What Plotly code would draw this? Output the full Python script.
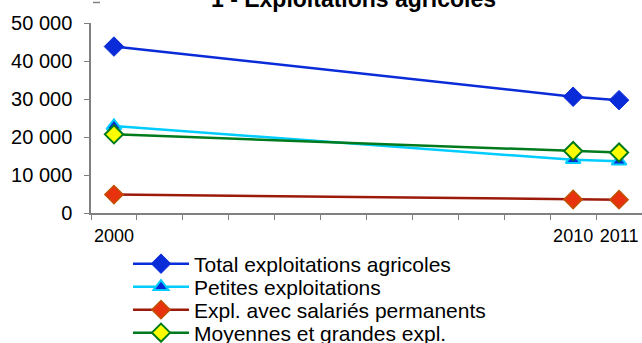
import plotly.graph_objects as go

years = [2000, 2010, 2011]
total = [43800, 30600, 29700]
petites = [22900, 14000, 13600]
salaries = [4850, 3550, 3500]
moyennes = [20700, 16300, 15900]
tick_labels = ["2000", "2010", "2011"]
series_names = ["Total exploitations agricoles", "Petites exploitations",
                "Expl. avec salariés permanents", "Moyennes et grandes expl."]
y_ticks = [0, 10000, 20000, 30000, 40000, 50000]
y_tick_labels = ["0", "10 000", "20 000", "30 000", "40 000", "50 000"]
first_year, last_year = 2000, 2011
# category boundaries (one slot per year) for the x tick marks
boundaries = [y - 0.5 for y in range(first_year, last_year + 2)]

FONT = "Liberation Sans, Arial, sans-serif"
W, H = 642, 343
fig = go.Figure()
fig.add_trace(go.Scatter(x=years, y=total, name=series_names[0], mode="lines+markers",
                         legend="legend",
                         line=dict(color="#0a2bd8", width=2.5),
                         marker=dict(symbol="diamond", size=15, color="#0a2bd8",
                                     line=dict(color="#0a2bd8", width=1))))
fig.add_trace(go.Scatter(x=years, y=petites, name=series_names[1], mode="lines+markers",
                         legend="legend2",
                         line=dict(color="#00ccff", width=2.5),
                         marker=dict(symbol="triangle-up", size=13, color="#0a2bd8",
                                     line=dict(color="#00ccff", width=2))))
fig.add_trace(go.Scatter(x=years, y=salaries, name=series_names[2], mode="lines+markers",
                         legend="legend3",
                         line=dict(color="#9c1a0a", width=2.5),
                         marker=dict(symbol="diamond", size=14, color="#e8320e",
                                     line=dict(color="#c05000", width=1.5))))
fig.add_trace(go.Scatter(x=years, y=moyennes, name=series_names[3], mode="lines+markers",
                         legend="legend4",
                         line=dict(color="#007a1c", width=2.5),
                         marker=dict(symbol="diamond", size=14, color="#ffff00",
                                     line=dict(color="#007a1c", width=2))))
# carrier for the year labels on the overlay axis (draws nothing)
fig.add_trace(go.Scatter(x=years, y=total, xaxis="x2", mode="none",
                         showlegend=False, hoverinfo="skip"))

row_centers = [264, 287, 310, 333]
legend_x = 128
def legend_cfg(yc):
    return dict(xref="container", yref="container", x=legend_x / W, y=1 - yc / H,
                xanchor="left", yanchor="middle",
                font=dict(size=21, family=FONT), bgcolor="rgba(0,0,0,0)",
                itemwidth=56, borderwidth=0)

xr = [first_year - 0.5, last_year + 0.5]
fig.update_layout(
    width=W, height=H,
    margin=dict(l=91, r=0, t=23, b=130, autoexpand=False),
    paper_bgcolor="white", plot_bgcolor="white",
    font=dict(family=FONT, color="black"),
    showlegend=True,
    legend=legend_cfg(row_centers[0]),
    legend2=legend_cfg(row_centers[1]),
    legend3=legend_cfg(row_centers[2]),
    legend4=legend_cfg(row_centers[3]),
    annotations=[dict(text="<b>1 - Exploitations agricoles</b>", x=0.477, y=1.045,
                      xref="paper", yref="paper", showarrow=False,
                      font=dict(size=23, family=FONT), xanchor="center", yanchor="bottom")],
    shapes=[dict(type="line", xref="paper", yref="paper", x0=0.0036, x1=0.0163,
                 y0=1.108, y1=1.108, line=dict(color="#808080", width=1.5))],
    xaxis=dict(range=xr, tickmode="array", tickvals=boundaries, showticklabels=False,
               ticks="outside", ticklen=5, tickcolor="#808080", tickwidth=1.2,
               showgrid=False, zeroline=False, automargin=False,
               showline=True, linecolor="#808080", linewidth=1.5),
    xaxis2=dict(range=xr, overlaying="x", anchor="y", side="bottom",
                tickmode="array", tickvals=years, ticktext=tick_labels, tickangle=0,
                ticks="outside", ticklen=6, tickcolor="rgba(0,0,0,0)",
                showgrid=False, zeroline=False, showline=False, automargin=False,
                tickfont=dict(size=18, family=FONT)),
    yaxis=dict(range=[0, 50000], tickmode="array", tickvals=y_ticks, ticktext=y_tick_labels,
               ticks="outside", ticklen=5, tickcolor="#808080", tickwidth=1.2,
               ticklabelstandoff=8,
               showgrid=False, zeroline=False, showline=True, automargin=False,
               linecolor="#808080", linewidth=1.5,
               tickfont=dict(size=20, family=FONT)),
)

fig.write_html("out.html", config={"displayModeBar": False},
               post_script="document.body.style.margin='0';document.body.style.overflow='hidden';")
